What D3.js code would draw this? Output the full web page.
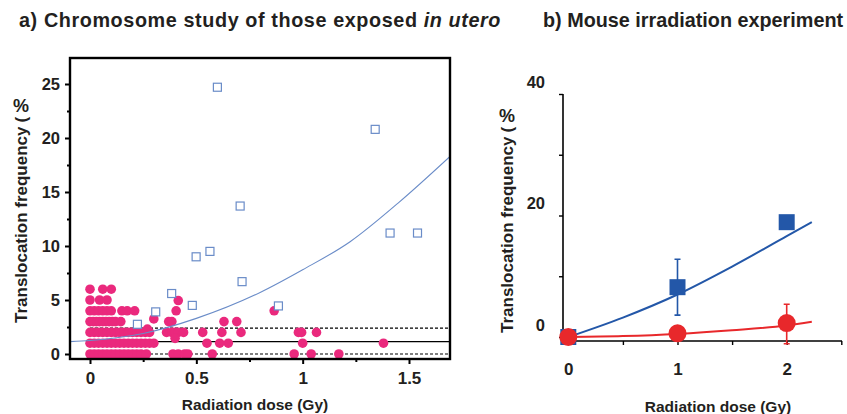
<!DOCTYPE html>
<html lang="en">

<head>
    <meta charset="UTF-8">
    <title>Translocation frequency</title>
    <style>
        body {
            margin: 0px;
            padding: 0px;
            background-color: white;
        }

        svg {
            display: block;
            font-family: "Liberation Sans", Arial, Helvetica, sans-serif;
            font-weight: bold;
        }

        .tick-label {
            fill: #231f20;
        }
    </style>
</head>

<body>
    <div id="chart"></div>

    <script src="https://cdn.jsdelivr.net/npm/d3@7"></script>
    <script>

        // ---- data ----

        // a) in utero: lymphocytes of mothers / fetuses
        const uteroDots = [
            // y = 6
            [0.00, 6], [0.06, 6], [0.10, 6],
            // y = 5
            [0.00, 5], [0.045, 5], [0.08, 5], [0.415, 4.95],
            // y = 4
            [0.00, 4], [0.02, 4], [0.04, 4], [0.06, 4], [0.08, 4], [0.10, 4],
            [0.15, 4], [0.175, 4], [0.21, 4], [0.405, 4], [0.866, 4],
            // y = 3
            [0.00, 3], [0.015, 3], [0.03, 3], [0.045, 3], [0.06, 3], [0.075, 3],
            [0.09, 3], [0.105, 3], [0.12, 3], [0.145, 3], [0.30, 3.25], [0.37, 3],
            [0.385, 3], [0.63, 3], [0.69, 3],
            // y = 2
            [0.00, 2], [0.02, 2], [0.04, 2], [0.06, 2], [0.08, 2], [0.10, 2],
            [0.12, 2], [0.14, 2], [0.16, 2], [0.18, 2], [0.20, 2], [0.22, 2],
            [0.24, 2], [0.26, 2], [0.28, 2], [0.27, 2.3], [0.36, 2], [0.385, 2],
            [0.40, 2], [0.415, 2], [0.44, 2], [0.53, 2], [0.62, 2], [0.71, 2],
            [0.98, 2], [0.995, 2], [1.065, 2],
            // y = 1
            [0.00, 1], [0.02, 1], [0.04, 1], [0.06, 1], [0.08, 1], [0.10, 1],
            [0.12, 1], [0.14, 1], [0.16, 1], [0.18, 1], [0.20, 1], [0.22, 1],
            [0.24, 1], [0.26, 1], [0.28, 1], [0.30, 1], [0.40, 1.45], [0.55, 1],
            [0.61, 1], [0.65, 1], [1.00, 1], [1.38, 1],
            // y = 0
            [0.00, 0], [0.02, 0], [0.04, 0], [0.06, 0], [0.08, 0], [0.10, 0],
            [0.12, 0], [0.14, 0], [0.16, 0], [0.18, 0], [0.20, 0], [0.22, 0],
            [0.24, 0], [0.265, 0], [0.39, 0], [0.415, 0], [0.445, 0], [0.46, 0],
            [0.575, 0], [0.96, 0], [1.04, 0], [1.17, 0]
        ];

        // a) atomic bomb survivors exposed as adults (open squares)
        const adultSquares = [
            [0.223, 2.75], [0.309, 3.9], [0.384, 5.6], [0.481, 4.5], [0.499, 9.0],
            [0.564, 9.5], [0.599, 24.7], [0.706, 13.7], [0.715, 6.7], [0.886, 4.45],
            [1.341, 20.8], [1.411, 11.2], [1.54, 11.2]
        ];

        // a) fitted dose response for adults
        const adultFit = [
            [-0.094, 1.15], [0, 1.25], [0.25, 1.9], [0.5, 3.3], [0.8, 5.7],
            [1.0, 7.8], [1.223, 10.4], [1.45, 14.0], [1.693, 18.3]
        ];

        // a) reference levels for in utero group
        const uteroMean = 1.15;
        const uteroBand = [0.0, 2.4];

        const aYTicks = [0, 5, 10, 15, 20, 25];
        const aYMinor = [2.5, 7.5, 12.5, 17.5, 22.5];
        const aXTicks = [0, 0.5, 1, 1.5];
        const aXMinor = [0.25, 0.75, 1.25];

        // b) mouse experiment
        const mouseDose = [0, 1, 2];
        const motherMean = [0, 8.2, 18.9];
        const motherErr = [null, [3.6, 12.8], null];
        const fetusMean = [0, 0.6, 2.3];
        const fetusErr = [null, null, [-1.1, 5.4]];
        const motherFit = [[0, 0], [0.5, 3.2], [1, 7.0], [1.5, 11.6], [2, 16.6], [2.23, 18.9]];
        const fetusFit = [[0, 0], [0.5, 0.15], [1, 0.5], [1.5, 1.1], [2, 1.9], [2.23, 2.5]];

        const bYTicks = [0, 20, 40];
        const bYMinor = [10, 30];
        const bXTicks = [0, 1, 2];
        const bXMinor = [0.5, 1.5, 2.5];

        // ---- svg ----
        const w = 847;
        const h = 414;

        const svg = d3.select("#chart")
            .append("svg")
            .attr("width", w)
            .attr("height", h);

        const ink = "#231f20";
        const pink = "#ea297d";
        const openBlue = "#6a8cc8";
        const darkBlue = "#2357a8";
        const red = "#e8282b";

        // titles
        const titleA = svg.append("text")
            .attr("x", 19)
            .attr("y", 27)
            .style("font-size", "19.8px")
            .style("letter-spacing", "0.6px")
            .attr("fill", ink);
        titleA.append("tspan").text("a) Chromosome study of those exposed ");
        titleA.append("tspan").style("font-style", "italic").text("in utero");

        svg.append("text")
            .attr("x", 543)
            .attr("y", 27)
            .style("font-size", "19.8px")
            .attr("fill", ink)
            .text("b) Mouse irradiation experiment");

        // rotated axis title, starting at the bottom, with an upright %
        function yTitle(cx, bottom) {
            const g = svg.append("g")
                .attr("transform", `translate(${cx}, ${bottom}) rotate(-90)`)
                .style("font-size", "17px")
                .attr("fill", ink);
            const t1 = g.append("text").attr("x", 0).text("Translocation frequency");
            const l1 = t1.node().getComputedTextLength();
            g.append("text").attr("x", l1 + 4).text("(");
            g.append("text")
                .attr("transform", `translate(${l1 + 21}, -6) rotate(90)`)
                .attr("text-anchor", "middle")
                .attr("dy", "0.35em")
                .style("font-size", "18px")
                .text("%");
        }

        // ================= panel a =================
        const frameA = { left: 70, right: 450, top: 58, bottom: 359 };
        const xA = d3.scaleLinear().domain([0, 1.5]).range([90, 409]);
        const yA = d3.scaleLinear().domain([0, 25]).range([354, 84]);

        const gA = svg.append("g");

        // clip so the fit curve stays inside the frame
        svg.append("clipPath").attr("id", "clipA")
            .append("rect")
            .attr("x", frameA.left)
            .attr("y", frameA.top)
            .attr("width", frameA.right - frameA.left)
            .attr("height", frameA.bottom - frameA.top);

        const plotA = gA.append("g").attr("clip-path", "url(#clipA)");

        // reference lines
        plotA.selectAll(".band")
            .data(uteroBand)
            .enter()
            .append("line")
            .attr("x1", xA(0))
            .attr("x2", frameA.right)
            .attr("y1", (d) => yA(d))
            .attr("y2", (d) => yA(d))
            .attr("stroke", "#000")
            .attr("stroke-width", 1.2)
            .attr("stroke-dasharray", "3,2");

        plotA.append("line")
            .attr("x1", xA(0))
            .attr("x2", frameA.right)
            .attr("y1", yA(uteroMean))
            .attr("y2", yA(uteroMean))
            .attr("stroke", "#000")
            .attr("stroke-width", 1.3);

        // pink dots
        plotA.selectAll(".dot")
            .data(uteroDots)
            .enter()
            .append("circle")
            .attr("cx", (d) => xA(d[0]))
            .attr("cy", (d) => yA(d[1]))
            .attr("r", 4.8)
            .attr("fill", pink);

        // fit curve
        const lineA = d3.line()
            .x((d) => xA(d[0]))
            .y((d) => yA(d[1]))
            .curve(d3.curveMonotoneX);

        plotA.append("path")
            .attr("d", lineA(adultFit))
            .attr("fill", "none")
            .attr("stroke", openBlue)
            .attr("stroke-width", 1.1);

        // open squares
        const sq = 8;
        plotA.selectAll(".sq")
            .data(adultSquares)
            .enter()
            .append("rect")
            .attr("x", (d) => xA(d[0]) - sq / 2)
            .attr("y", (d) => yA(d[1]) - sq / 2)
            .attr("width", sq)
            .attr("height", sq)
            .attr("fill", "white")
            .attr("stroke", openBlue)
            .attr("stroke-width", 1.2);

        // frame
        gA.append("rect")
            .attr("x", frameA.left)
            .attr("y", frameA.top)
            .attr("width", frameA.right - frameA.left)
            .attr("height", frameA.bottom - frameA.top)
            .attr("fill", "none")
            .attr("stroke", "#000")
            .attr("stroke-width", 2.4);

        // axes
        function styleAxis(sel, size) {
            sel.select(".domain").remove();
            sel.selectAll(".tick line").attr("stroke", "#000").attr("stroke-width", 2);
            sel.selectAll(".tick text")
                .attr("class", "tick-label")
                .style("font-size", size)
                .style("font-family", "'Liberation Sans', Arial, sans-serif")
                .style("font-weight", "bold");
        }

        gA.append("g")
            .attr("transform", `translate(${frameA.left}, 0)`)
            .call(d3.axisLeft(yA).tickValues(aYTicks).tickSize(5).tickPadding(5).tickFormat(d3.format("d")))
            .call((s) => styleAxis(s, "16.5px"));
        gA.append("g")
            .attr("transform", `translate(${frameA.left}, 0)`)
            .call(d3.axisLeft(yA).tickValues(aYMinor).tickSize(3).tickFormat(""))
            .call((s) => styleAxis(s, "1px"));

        gA.append("g")
            .attr("transform", `translate(0, ${frameA.bottom})`)
            .call(d3.axisBottom(xA).tickValues(aXTicks).tickSize(5).tickPadding(8).tickFormat((d) => d))
            .call((s) => styleAxis(s, "17px"));
        gA.append("g")
            .attr("transform", `translate(0, ${frameA.bottom})`)
            .call(d3.axisBottom(xA).tickValues(aXMinor).tickSize(3).tickFormat(""))
            .call((s) => styleAxis(s, "1px"));

        svg.append("text")
            .attr("x", 255)
            .attr("y", 410)
            .attr("text-anchor", "middle")
            .style("font-size", "15.5px")
            .attr("fill", ink)
            .text("Radiation dose  (Gy)");

        yTitle(27, 323);

        // ================= panel b =================
        const xB = d3.scaleLinear().domain([0, 2]).range([568.3, 786.7]);
        const yB = d3.scaleLinear().domain([0, 40]).range([337, 94]);
        const axB = { left: 563, bottom: 341, right: 842, top: 94 };

        const gB = svg.append("g");

        gB.append("line")
            .attr("x1", axB.left).attr("x2", axB.left)
            .attr("y1", axB.top).attr("y2", axB.bottom)
            .attr("stroke", "#000").attr("stroke-width", 1.6);
        gB.append("line")
            .attr("x1", axB.left).attr("x2", axB.right)
            .attr("y1", axB.bottom).attr("y2", axB.bottom)
            .attr("stroke", "#000").attr("stroke-width", 1.6);

        const yAxB = gB.append("g")
            .attr("transform", `translate(${axB.left}, 0)`)
            .call(d3.axisLeft(yB).tickValues(bYTicks.concat(bYMinor)).tickSize(4).tickPadding(4)
                .tickFormat((d) => bYTicks.includes(d) ? d : ""));
        styleAxis(yAxB, "16.5px");
        yAxB.selectAll(".tick line").attr("stroke-width", 1.4);
        yAxB.selectAll(".tick text").attr("dy", "-0.4em").attr("x", -18);

        const xAxB = gB.append("g")
            .attr("transform", `translate(0, ${axB.bottom})`)
            .call(d3.axisBottom(xB).tickValues(bXTicks.concat(bXMinor)).tickSize(4).tickPadding(18)
                .tickFormat((d) => bXTicks.includes(d) ? d : ""));
        styleAxis(xAxB, "17px");
        xAxB.selectAll(".tick line").attr("stroke-width", 1.4);
        xAxB.selectAll(".tick").filter((d) => d === 0).select("line").remove();

        const lineB = d3.line()
            .x((d) => xB(d[0]))
            .y((d) => yB(d[1]))
            .curve(d3.curveMonotoneX);

        gB.append("path")
            .attr("d", lineB(motherFit))
            .attr("fill", "none")
            .attr("stroke", darkBlue)
            .attr("stroke-width", 2);

        gB.append("path")
            .attr("d", lineB(fetusFit))
            .attr("fill", "none")
            .attr("stroke", red)
            .attr("stroke-width", 2);

        // error bars
        function errorBars(errs, color) {
            const rows = mouseDose.map((d, i) => ({ x: d, e: errs[i] })).filter((d) => d.e);
            gB.selectAll(null)
                .data(rows)
                .enter()
                .append("path")
                .attr("d", (d) => {
                    const x = xB(d.x), y0 = yB(d.e[0]), y1 = yB(d.e[1]);
                    return `M${x - 3},${y1}H${x + 3}M${x},${y1}V${y0}M${x - 3},${y0}H${x + 3}`;
                })
                .attr("fill", "none")
                .attr("stroke", color)
                .attr("stroke-width", 1.6);
        }
        errorBars(motherErr, darkBlue);
        errorBars(fetusErr, red);

        const bsq = 16;
        gB.selectAll(".msq")
            .data(mouseDose)
            .enter()
            .append("rect")
            .attr("x", (d) => xB(d) - bsq / 2)
            .attr("y", (d, i) => yB(motherMean[i]) - bsq / 2)
            .attr("width", bsq)
            .attr("height", bsq)
            .attr("fill", darkBlue);

        gB.selectAll(".fc")
            .data(mouseDose)
            .enter()
            .append("circle")
            .attr("cx", (d) => xB(d))
            .attr("cy", (d, i) => yB(fetusMean[i]))
            .attr("r", 9)
            .attr("fill", red);

        svg.append("text")
            .attr("x", 718)
            .attr("y", 412)
            .attr("text-anchor", "middle")
            .style("font-size", "15.5px")
            .attr("fill", ink)
            .text("Radiation dose  (Gy)");

        yTitle(513, 333);

    </script>
</body>

</html>
